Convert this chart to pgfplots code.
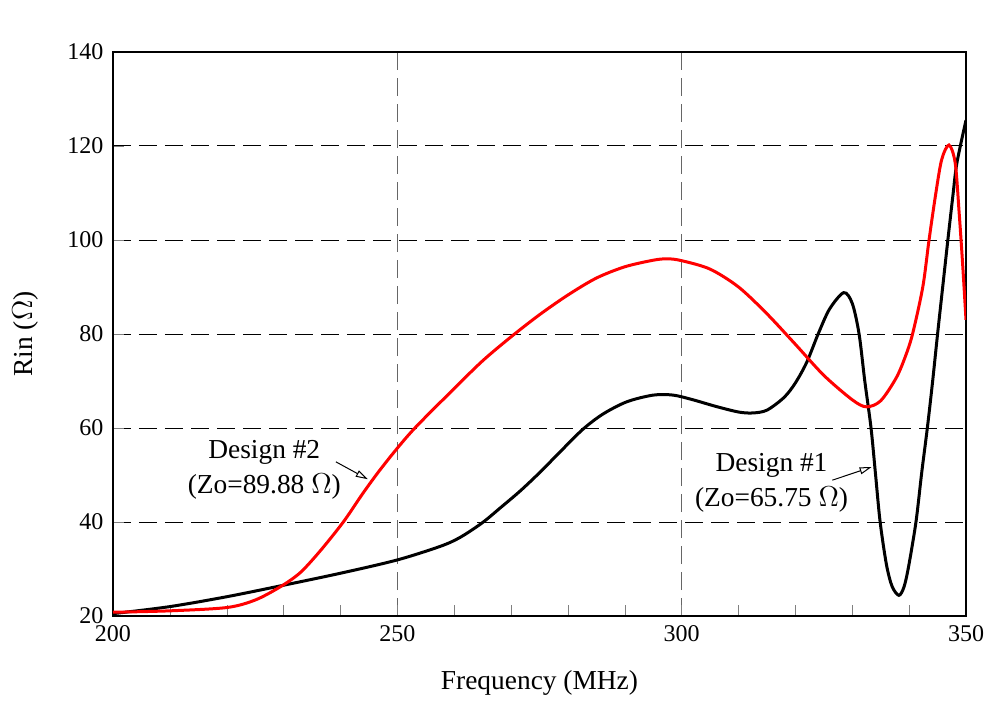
\documentclass[border=0pt]{standalone}
\usepackage{fontspec}
\setmainfont{Liberation Serif}
\usepackage{pgfplots}
\pgfplotsset{compat=1.18}
\usetikzlibrary{arrows.meta}

\begin{document}
\fontsize{13.7}{17.5}\selectfont
\begin{tikzpicture}
\useasboundingbox (-56.5pt,-43pt) rectangle (438pt,308pt);
\begin{axis}[
  scale only axis, width=426.5pt, height=282pt,
  xmin=200, xmax=350, ymin=20, ymax=140,
  xtick={200,250,300,350}, ytick={20,40,...,140},
  minor x tick num=4,
  tick pos=left, tick align=inside,
  major tick length=5.5pt, minor tick length=5.5pt,
  /pgf/number format/assume math mode=true,
  tick label style={font=\fontsize{12}{14}\selectfont},
  axis line style={line width=0.7pt},
  xmajorgrids, ymajorgrids,
  x grid style={black!60, line width=0.6pt, dash pattern=on 9pt off 4pt},
  y grid style={black, line width=0.5pt, dash pattern=on 9pt off 4pt},
  xlabel={Frequency (MHz)},
  xlabel style={at={(axis description cs:0.5,-0.119)}, anchor=center},
  ylabel={Rin ($\Omega$)},
  ylabel style={at={(axis description cs:-0.103,0.5)}, anchor=center},
]
% Design #1
\addplot[black, line width=1.5pt, smooth] coordinates {
  (200,20.5) (210,22.0) (220,24.1) (229.4,26.4) (240,29.1) (249.9,31.9)
  (257.5,34.8) (261,36.7) (264.9,39.8) (268.1,43.0) (271.6,46.6)
  (275.1,50.6) (278.6,54.9) (282.6,59.7) (286.2,63.0) (290.4,65.6)
  (295,67.0) (298.5,67.0) (302,66.0) (306,64.6) (310,63.4) (312.5,63.2)
  (315,63.8) (318,66.5) (320,69.6) (322,74) (324,80) (326,85.3)
  (328.5,88.8) (330,86.5) (331.2,80) (332.2,70) (333.3,60) (334.1,50)
  (334.9,40) (336,31) (337,26.3) (338.2,24.4) (339.1,26.2) (339.9,30.5)
  (341.2,40) (342.2,50.4) (343.2,60) (344.1,69.6) (345.0,80) (345.9,90)
  (346.9,101) (347.7,109.5) (348.4,116.4) (350,125.5)
};
% Design #2
\addplot[red, line width=1.5pt, smooth] coordinates {
  (200,20.8) (210,21.1) (220,21.8) (225,23.4) (229.4,26.2) (232.9,29.2)
  (236.4,33.8) (240.5,40) (244,46.2) (246.9,51) (250.2,56) (253.4,60.4)
  (260,68.4) (265,74.3) (270,79.4) (275,84.1) (280,88.3)
  (285,91.9) (290,94.3) (295,95.7) (297.5,96) (300,95.6) (305,93.8)
  (310,90.0) (315,84.3) (320,77.8) (325,71.2) (330,66.0) (332.5,64.5)
  (335,65.8) (337.7,70.6) (339.3,75.1) (340.6,80) (342.4,90) (343.5,100)
  (344.6,109.2) (345.7,117) (347,120.2) (348.1,116.4) (348.8,105.7)
  (349.4,95) (350,83)
};
\node at (axis description cs:0.5,1.0585) {YAGI Input Resistance};
\node[align=center] at (axis cs:226.6,51.1) {Design \#2\\(Zo=89.88 $\Omega$)};
\draw[black, line width=0.5pt, -{Triangle[open, length=6pt, width=3.5pt]}]
  (axis cs:239.2,52.8) -- (axis cs:244.8,49.1);
\node[align=center] at (axis cs:315.8,48.3) {Design \#1\\(Zo=65.75 $\Omega$)};
\draw[black, line width=0.5pt, -{Triangle[open, length=6pt, width=3.5pt]}]
  (axis cs:326.5,48.9) -- (axis cs:333.4,51.7);
\end{axis}
\end{tikzpicture}
\end{document}
